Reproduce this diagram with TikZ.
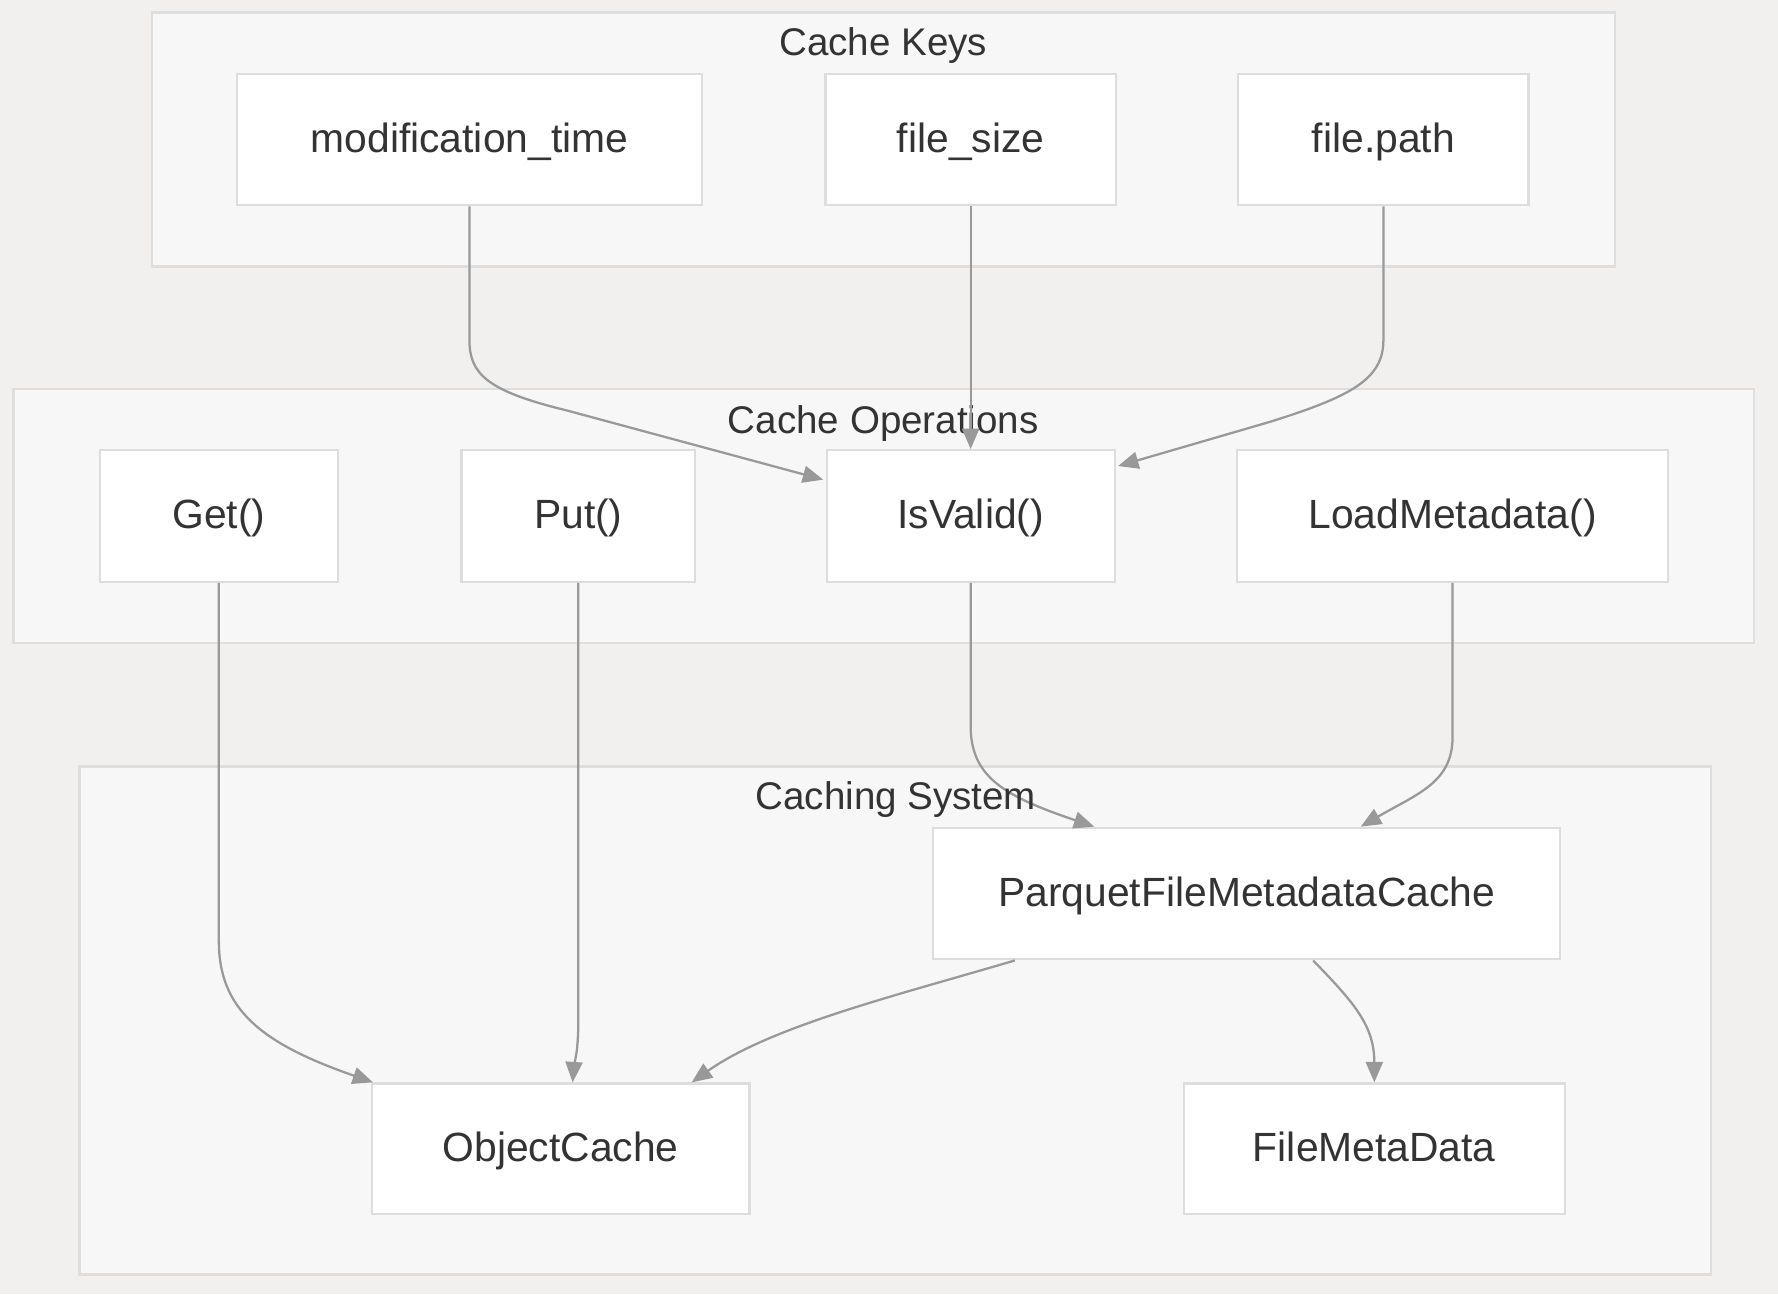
\documentclass[tikz,border=0pt]{standalone}
\usepackage{fontspec}
\setmainfont{Liberation Sans}
\usetikzlibrary{arrows.meta,calc}
\definecolor{bgc}{HTML}{F1F0EF}
\definecolor{clfill}{HTML}{F7F7F7}
\definecolor{clline}{HTML}{DEDEDE}
\definecolor{ndline}{HTML}{DDDDDD}
\definecolor{txt}{HTML}{333333}
\definecolor{edge}{HTML}{999999}
\tikzset{
  box/.style={draw=ndline, fill=white, line width=1pt, minimum height=58pt, inner sep=0pt, text=txt, text height=1.14em, text depth=0em, font=\fontsize{18}{21}\selectfont},
  cluster/.style={draw=clline, fill=clfill, line width=1pt, inner sep=0pt},
  cltitle/.style={text=txt, font=\fontsize{17}{20}\selectfont, inner sep=0pt, text height=1.1em, text depth=0em},
  conn/.style={draw=edge, line width=1pt, -{Triangle[length=9pt,width=7.5pt]}}
}
\begin{document}
\begin{tikzpicture}[x=0.5pt,y=-0.5pt]
\fill[bgc] (0,0) rectangle (1568,1141.2);
\useasboundingbox (0,0) rectangle (1568,1141.2);
% clusters
\node[cluster, minimum width=645pt, minimum height=112pt] (ck) at (779,123) {};
\node[cluster, minimum width=767.5pt, minimum height=112pt] (co) at (779.5,455) {};
\node[cluster, minimum width=719.5pt, minimum height=224pt] (cs) at (789.5,900) {};
\node[cltitle] (ckt) at (779,38) {Cache Keys};
\node[cltitle] (cot) at (779,371) {Cache Operations};
% nodes
\node[box, minimum width=205pt] (mt) at (414,123) {modification\_time};
\node[box, minimum width=128pt] (fs) at (856,123) {file\_size};
\node[box, minimum width=128pt] (fp) at (1220,123) {file.path};
\node[box, minimum width=105pt] (get) at (193,455) {Get()};
\node[box, minimum width=103pt] (put) at (510,455) {Put()};
\node[box, minimum width=127pt] (iv) at (856,455) {IsValid()};
\node[box, minimum width=190pt] (lm) at (1281,455) {LoadMetadata()};
\node[box, minimum width=276.5pt] (pf) at (1099.5,788) {ParquetFileMetadataCache};
\node[box, minimum width=166.5pt, minimum height=57.5pt] (oc) at (494.5,1013) {ObjectCache};
\node[box, minimum width=168pt, minimum height=57.5pt] (fmd) at (1212,1013) {FileMetaData};
% edges
\draw[conn] (mt.south) -- (414,300) .. controls (414,330) and (430,345) .. (500,362) -- ($(iv.north west)+(-2,27)$);
\draw[conn] (fs.south) -- (iv.north);
\draw[conn] (fp.south) -- (1220,300) .. controls (1220,335) and (1190,350) .. (1120,372) -- ($(iv.north east)+(2,15)$);
\draw[conn] (iv.south) -- (856,640) .. controls (856,685) and (885,702) .. ($(pf.north)+(-134.5,0)$);
\draw[conn] (lm.south) -- (1281,650) .. controls (1281,690) and (1250,700) .. ($(pf.north)+(100.5,0)$);
\draw[conn] (get.south) -- (193,830) .. controls (193,890) and (230,920) .. ($(oc.north west)+(2,0)$);
\draw[conn] (put.south) -- (510,900) .. controls (510,930) and (506,940) .. ($(oc.north)+(10.5,0)$);
\draw[conn] ($(pf.south)+(-204.5,0)$) .. controls (790,878) and (680,905) .. ($(oc.north)+(115.5,0)$);
\draw[conn] ($(pf.south)+(58.5,0)$) .. controls (1195,885) and (1212,905) .. (fmd.north);
\node[cltitle] (cst) at (790,703) {Caching System};
\end{tikzpicture}
\end{document}
